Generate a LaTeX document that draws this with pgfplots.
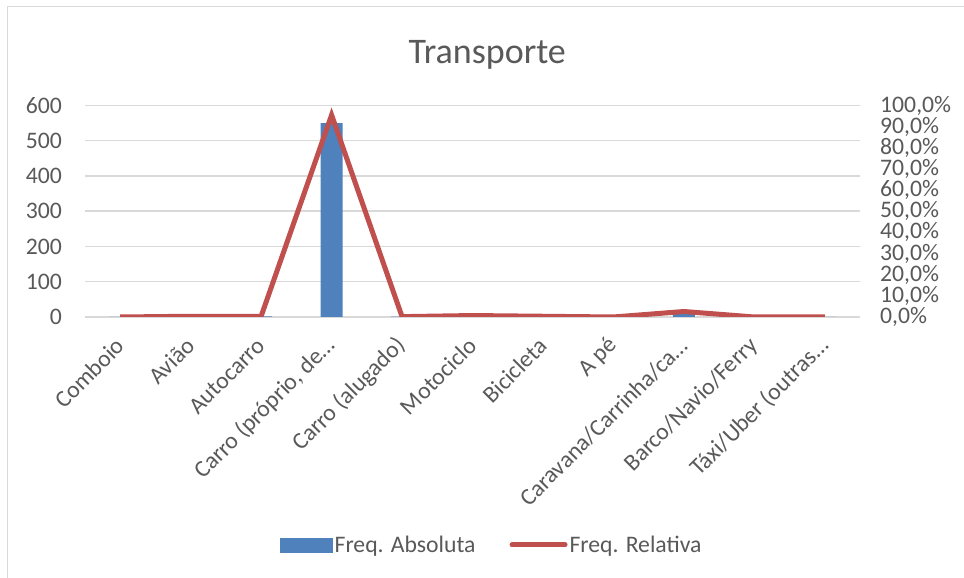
\documentclass[border=0pt]{standalone}
\usepackage{fontspec}
\setmainfont{Carlito}
\usepackage{pgfplots}
\pgfplotsset{compat=1.18}
\definecolor{barblue}{HTML}{4F81BD}
\definecolor{linered}{HTML}{C0504D}
\definecolor{txt}{HTML}{595959}
\definecolor{grd}{HTML}{D9D9D9}
\newcommand\tf{\fontsize{23.7}{28}\selectfont}
\begin{document}
\begin{tikzpicture}[x=1pt,y=1pt]
\path[use as bounding box] (0,0) rectangle (964,578);
\draw[grd, line width=1.5pt] (7.5,0) -- (7.5,571.5) -- (964,571.5);
\begin{axis}[
  at={(85pt,261pt)}, anchor=south west,
  scale only axis, width=775pt, height=211.5pt,
  xmin=-0.5, xmax=10.5, ymin=0, ymax=600,
  ytick={0,100,...,600},
  xtick={0,...,10},
  xticklabels={Comboio, Avião, Autocarro, {Carro (próprio, de…}, {Carro (alugado)}, Motociclo, Bicicleta, A pé, {Caravana/Carrinha/ca…}, Barco/Navio/Ferry, {Táxi/Uber (outras…}},
  axis line style={draw=none},
  tick style={draw=none},
  major tick length=0pt,
  ymajorgrids, grid style={grd, line width=1.5pt},
  /pgf/number format/assume math mode=true,
  tick label style={font=\tf, text=txt},
  yticklabel style={anchor=east, inner sep=0pt, xshift=-23pt},
  xticklabel style={inner sep=0pt, yshift=-25pt, rotate=45, anchor=east},
  title={Transporte},
  title style={at={(0.519,1.210)}, anchor=center, font=\fontsize{36}{40}\selectfont, text=txt},
]
\addplot[ybar, bar width=22pt, bar shift=0pt, fill=barblue, draw=none] coordinates {
  (0,0) (1,2) (2,2) (3,550) (4,1) (5,4) (6,2) (7,0) (8,14) (9,0) (10,0)};
\end{axis}
\begin{axis}[
  at={(85pt,261pt)}, anchor=south west,
  scale only axis, width=775pt, height=211.5pt,
  xmin=-0.5, xmax=10.5, ymin=0, ymax=100,
  axis x line=none,
  axis y line*=right,
  y axis line style={draw=none},
  tick style={draw=none},
  major tick length=0pt,
  ytick={0,10,...,100},
  yticklabels={{0,0\%},{10,0\%},{20,0\%},{30,0\%},{40,0\%},{50,0\%},{60,0\%},{70,0\%},{80,0\%},{90,0\%},{100,0\%}},
  yticklabel style={font=\tf, text=txt, anchor=west, inner sep=0pt, xshift=20pt},
  legend style={at={(0.525,-1.078)}, anchor=center, draw=none, fill=none,
    font=\tf, text=txt, legend columns=2,
    /tikz/every even column/.append style={column sep=32pt}},
]
\addlegendimage{legend image code/.code={\fill[barblue] (0pt,-7pt) rectangle (52pt,7pt);}}
\addlegendentry{Freq. Absoluta}
\addplot[linered, line width=5pt, line join=miter,
  legend image code/.code={\draw[linered, line width=5pt, line cap=round] (0pt,0pt) -- (53pt,0pt);}]
  coordinates {(0,0) (1,0.35) (2,0.35) (3,95.5) (4,0.17) (5,0.69) (6,0.35) (7,0) (8,2.6) (9,0) (10,0)};
\addlegendentry{Freq. Relativa}
\end{axis}
\end{tikzpicture}
\end{document}
